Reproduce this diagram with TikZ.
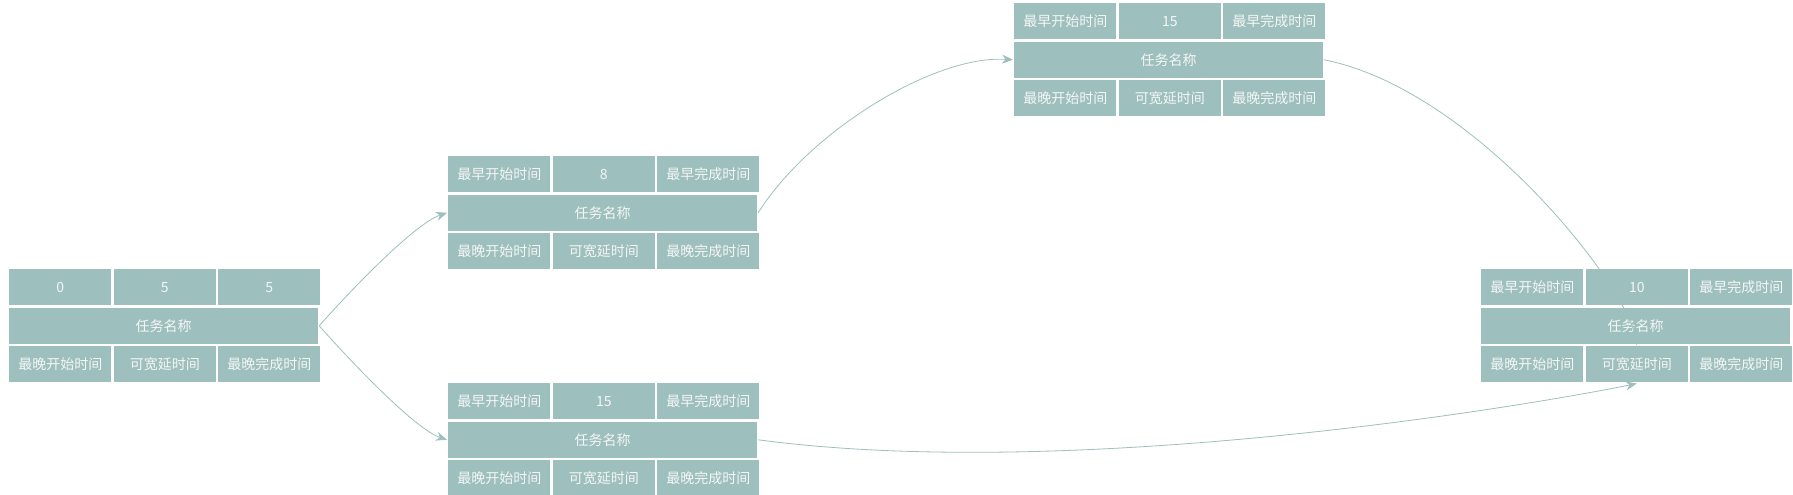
\documentclass[tikz,border=0pt]{standalone}
\usepackage{fontspec}
\newfontfamily\cjk{Noto Sans CJK SC}
\usetikzlibrary{arrows.meta}
\definecolor{cellc}{HTML}{9DBFBD}
\definecolor{txtc}{HTML}{F4F7F6}
\tikzset{
 cell/.style={fill=cellc,draw=white,line width=1.2pt,minimum width=103.33pt,minimum height=37.33pt,inner sep=0pt,text=txtc,font=\cjk\fontsize{14}{14}\selectfont},
 wide/.style={cell,minimum width=310pt},
 conn/.style={draw=cellc,line width=0.8pt,-{Stealth[length=11pt,width=9pt]}}
}
\newcommand{\pbox}[9]{%
 \node[cell,anchor=north west] (#1a) at (#2,#3) {#4};
 \node[cell,anchor=west] (#1b) at (#1a.east) {#5};
 \node[cell,anchor=west] (#1c) at (#1b.east) {#6};
 \node[wide,anchor=north west] (#1) at (#1a.south west) {任务名称};
 \node[cell,anchor=north west] (#1d) at (#1.south west) {#7};
 \node[cell,anchor=west] (#1e) at (#1d.east) {#8};
 \node[cell,anchor=west] (#1f) at (#1e.east) {#9};
}
\begin{document}
\begin{tikzpicture}[x=1pt,y=1pt]
\useasboundingbox (0,0) rectangle (1793,-495);
\pbox{A}{8}{-268}{0}{5}{5}{最晚开始时间}{可宽延时间}{最晚完成时间}
\pbox{B}{447}{-155}{最早开始时间}{8}{最早完成时间}{最晚开始时间}{可宽延时间}{最晚完成时间}
\pbox{C}{447}{-382}{最早开始时间}{15}{最早完成时间}{最晚开始时间}{可宽延时间}{最晚完成时间}
\pbox{D}{1013}{-2}{最早开始时间}{15}{最早完成时间}{最晚开始时间}{可宽延时间}{最晚完成时间}
\pbox{E}{1480}{-268}{最早开始时间}{10}{最早完成时间}{最晚开始时间}{可宽延时间}{最晚完成时间}
\draw[conn] (A.east) .. controls +(40,45) and +(-30,-10) .. (B.west);
\draw[conn] (A.east) .. controls +(40,-45) and +(-30,10) .. (C.west);
\draw[conn] (B.east) .. controls +(50,80) and +(-80,5) .. (D.west);
\draw[conn] (D.east) .. controls +(150,-30) and +(-10,60) .. (Ee.north);
\draw[conn] (C.east) .. controls +(300,-40) and +(-150,-30) .. (Ee.south);
\end{tikzpicture}
\end{document}
